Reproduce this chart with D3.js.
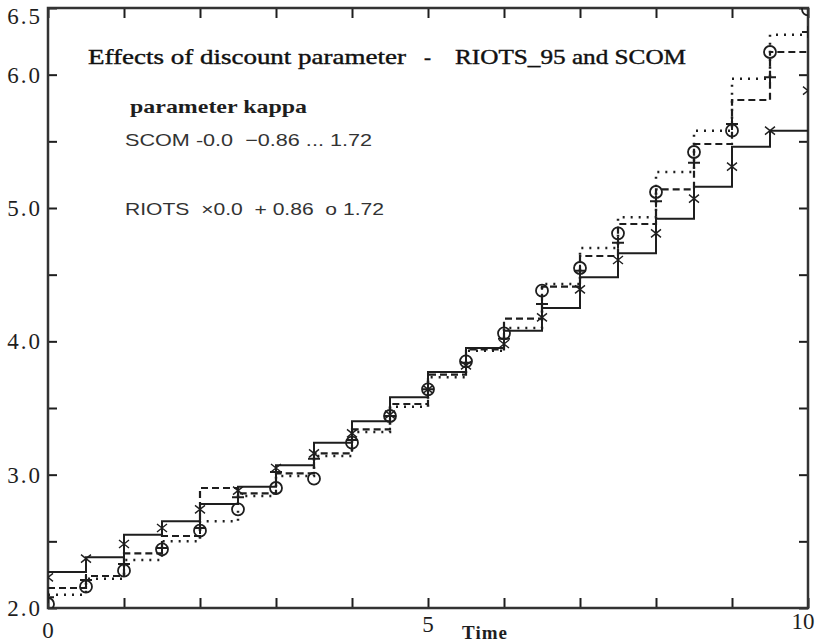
<!DOCTYPE html>
<html><head><meta charset="utf-8">
<script src="https://cdn.jsdelivr.net/npm/d3@7"></script>
<style>body{margin:0;background:#fff}svg{display:block}text{white-space:pre}</style>
</head><body><svg id="c" width="816" height="642"></svg>
<script>
// ---- data ----
const times = [0,0.5,1,1.5,2,2.5,3,3.5,4,4.5,5,5.5,6,6.5,7,7.5,8,8.5,9,9.5,10];
// SCOM step levels on each interval [t, t+0.5)
const scomK0   = [2.27,2.38,2.55,2.65,2.78,2.91,3.07,3.24,3.40,3.58,3.77,3.95,4.08,4.25,4.48,4.66,4.92,5.16,5.46,5.58];
const scomK086 = [2.15,2.24,2.41,2.54,2.90,2.86,3.01,3.16,3.34,3.53,3.75,3.94,4.17,4.41,4.64,4.88,5.14,5.48,5.81,6.17];
const scomK172 = [2.10,2.22,2.36,2.50,2.65,2.84,2.99,3.14,3.32,3.51,3.73,3.93,4.10,4.43,4.70,4.93,5.27,5.58,5.97,6.30];
// RIOTS values at each time point
const riotsK0   = [2.23,2.37,2.48,2.60,2.74,2.88,3.05,3.16,3.31,3.45,3.64,3.82,3.98,4.18,4.39,4.61,4.81,5.07,5.31,5.58,5.88];
const riotsK086 = [2.08,2.21,2.33,2.45,2.60,2.83,3.02,3.12,3.26,3.44,3.64,3.84,4.02,4.28,4.53,4.74,5.05,5.34,5.63,5.98,6.32];
const riotsK172 = [2.03,2.16,2.28,2.44,2.58,2.74,2.90,2.97,3.24,3.44,3.64,3.85,4.06,4.38,4.55,4.81,5.12,5.42,5.58,6.17,6.49];
const xTicks = [0,1,2,3,4,5,6,7,8,9,10];
const xTickLabels = ["0","5","10"];
const yTicks = [2,2.5,3,3.5,4,4.5,5,5.5,6,6.5];
const yTickLabels = ["2.0","3.0","4.0","5.0","6.0","6.5"];
const titleParts = ["Effects of discount parameter", "-", "RIOTS_95 and SCOM"];
const legendTitle = "parameter kappa";
const legendScom = "SCOM -0.0  \u22120.86 ... 1.72";
const legendRiots = "RIOTS  \u00d70.0  + 0.86  o 1.72";
const xTitle = "Time";

// ---- chart ----
const svg = d3.select("#c");
const L = 48, R = 808, T = 8, B = 608;
const x = d3.scaleLinear().domain([0,10]).range([L,R]);
const y = d3.scaleLinear().domain([2,6.5]).range([B,T]);
const ink = "#1e1e1e";

svg.append("defs").append("clipPath").attr("id","clip")
  .append("rect").attr("x",L).attr("y",T).attr("width",R-L).attr("height",B-T);

// axes (ticks inward)
const axB = svg.append("g").attr("transform",`translate(0,${B})`)
  .call(d3.axisBottom(x).tickValues(xTicks).tickSizeInner(-10).tickSizeOuter(0).tickFormat(""));
const axT = svg.append("g").attr("transform",`translate(0,${T})`)
  .call(d3.axisTop(x).tickValues(xTicks).tickSizeInner(-10).tickSizeOuter(0).tickFormat(""));
const axL = svg.append("g").attr("transform",`translate(${L},0)`)
  .call(d3.axisLeft(y).tickValues(yTicks).tickSizeInner(-9).tickSizeOuter(0).tickFormat(""));
const axR = svg.append("g").attr("transform",`translate(${R},0)`)
  .call(d3.axisRight(y).tickValues(yTicks).tickSizeInner(-9).tickSizeOuter(0).tickFormat(""));
[axB,axT,axL,axR].forEach(a=>{
  a.select(".domain").remove();
  a.selectAll(".tick line").attr("stroke",ink).attr("stroke-width",2);
});
svg.append("rect").attr("x",L).attr("y",T).attr("width",R-L).attr("height",B-T)
  .attr("fill","none").attr("stroke","#333").attr("stroke-width",2.5);

// tick labels
const serif = "'Liberation Serif','DejaVu Serif',serif";
const sans = "'Liberation Sans',Arial,sans-serif";
svg.append("g").selectAll("text").data(yTickLabels).join("text")
  .attr("x", 42).attr("y", d => Math.max(y(+d) + 8, 24))
  .attr("text-anchor","end").attr("font-family",serif).attr("font-size",23)
  .attr("letter-spacing",2).attr("fill",ink).text(d=>d);
svg.append("g").selectAll("text").data(xTickLabels).join("text")
  .attr("x", d => Math.min(x(+d), 803)).attr("y", d => +d===0 ? 638 : (+d===5 ? 632 : 629))
  .attr("text-anchor", "middle").attr("font-family",serif).attr("font-size",23)
  .attr("fill",ink).text(d=>d);
svg.append("text").attr("x",x(5.75)).attr("y",639).attr("text-anchor","middle")
  .attr("font-family",serif).attr("font-weight","bold").attr("font-size",19)
  .attr("letter-spacing",1).attr("fill",ink).text(xTitle);

// step lines
const stepData = arr => times.map((t,i)=>({t, v: arr[Math.min(i, arr.length-1)]}));
const line = d3.line().x(d=>x(d.t)).y(d=>y(d.v)).curve(d3.curveStepAfter);
const lines = svg.append("g").attr("clip-path","url(#clip)");
const styles = [
  {data: scomK0, dash: null, w: 2},
  {data: scomK086, dash: "7,4", w: 2.2},
  {data: scomK172, dash: "2,6", w: 2.5}
];
styles.forEach(s=>{
  lines.append("path").attr("d", line(stepData(s.data)))
    .attr("fill","none").attr("stroke",ink).attr("stroke-width",s.w)
    .attr("stroke-dasharray", s.dash);
});

// RIOTS markers
const mk = svg.append("g").attr("clip-path","url(#clip)").attr("stroke",ink).attr("fill","none");
mk.selectAll("path.x").data(riotsK0.map((v,i)=>({t:times[i],v}))).join("path")
  .attr("d", d=>{const cx=x(d.t), cy=y(d.v); return `M${cx-5},${cy-4}L${cx+5},${cy+4}M${cx-5},${cy+4}L${cx+5},${cy-4}`;})
  .attr("stroke-width",1.4);
mk.selectAll("path.p").data(riotsK086.map((v,i)=>({t:times[i],v}))).join("path")
  .attr("d", d=>{const cx=x(d.t), cy=y(d.v); return `M${cx-6},${cy}L${cx+6},${cy}M${cx},${cy-6}L${cx},${cy+6}`;})
  .attr("stroke-width",2);
mk.selectAll("circle").data(riotsK172.map((v,i)=>({t:times[i],v}))).join("circle")
  .attr("cx", d=>x(d.t)).attr("cy", d=>y(d.v)).attr("r",6).attr("stroke-width",1.8);

// title and legend text
const tg = svg.append("g").attr("fill","#111").attr("stroke","#111").attr("stroke-width",0.4)
  .attr("font-family",serif).attr("font-size",21);
tg.append("text").attr("x",88).attr("y",64).attr("textLength",318).attr("lengthAdjust","spacingAndGlyphs").text(titleParts[0]);
tg.append("text").attr("x",424).attr("y",64).text(titleParts[1]);
tg.append("text").attr("x",455).attr("y",64).attr("textLength",231).attr("lengthAdjust","spacingAndGlyphs").text(titleParts[2]);
svg.append("text").attr("x",130).attr("y",113).attr("font-family",serif).attr("font-weight","bold")
  .attr("font-size",19).attr("textLength",177).attr("lengthAdjust","spacingAndGlyphs").attr("fill",ink).text(legendTitle);
svg.append("text").attr("x",125).attr("y",146).attr("font-family",sans)
  .attr("font-size",17).attr("textLength",247).attr("lengthAdjust","spacingAndGlyphs").attr("fill","#333").text(legendScom);
svg.append("text").attr("x",125).attr("y",215).attr("font-family",sans)
  .attr("font-size",17).attr("textLength",259).attr("lengthAdjust","spacingAndGlyphs").attr("fill","#333").text(legendRiots);
</script>
</body></html>
